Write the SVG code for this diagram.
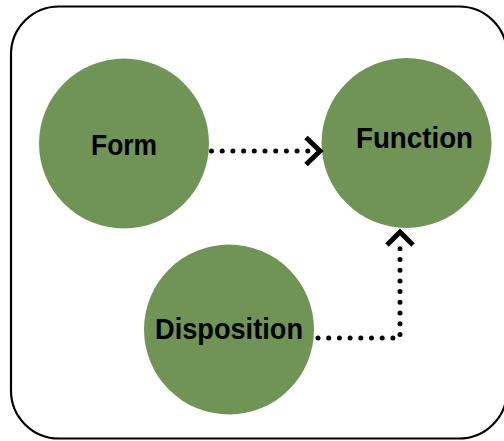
<svg xmlns="http://www.w3.org/2000/svg" width="504" height="441" viewBox="0 0 504 441">
<style>
.node{fill:#6f9456}
.lbl{font-family:"Century Gothic","Liberation Sans",Arial,sans-serif;font-weight:bold;font-size:30px;fill:#000;text-anchor:middle}
.dot{fill:none;stroke:#000;stroke-width:5;stroke-linecap:round;stroke-dasharray:0 10.7}
.head{fill:none;stroke:#000;stroke-width:5;stroke-linecap:butt;stroke-linejoin:miter}
</style>
<rect x="11" y="6.5" width="496" height="432" rx="48" ry="48" fill="#fff" stroke="#000" stroke-width="2.2"/>
<g id="form"><circle class="node" cx="124" cy="143.5" r="85"/><text class="lbl" x="124" y="155" textLength="66" lengthAdjust="spacingAndGlyphs">Form</text></g>
<g id="function"><circle class="node" cx="406.5" cy="143" r="85"/><text class="lbl" x="414.5" y="148" textLength="117" lengthAdjust="spacingAndGlyphs">Function</text></g>
<g id="disposition"><circle class="node" cx="229" cy="329.5" r="85"/><text class="lbl" x="229" y="339" textLength="148" lengthAdjust="spacingAndGlyphs">Disposition</text></g>
<g id="connectors">
<path class="dot" d="M211.5 151 L315 151"/>
<path class="head" d="M306 137.5 L320 151 L306 164.5"/>
<path class="dot" d="M318 338 L397 338 L400 338 L400 240"/>
<path class="head" d="M387 245 L400 232 L413 245"/>
</g>
</svg>
